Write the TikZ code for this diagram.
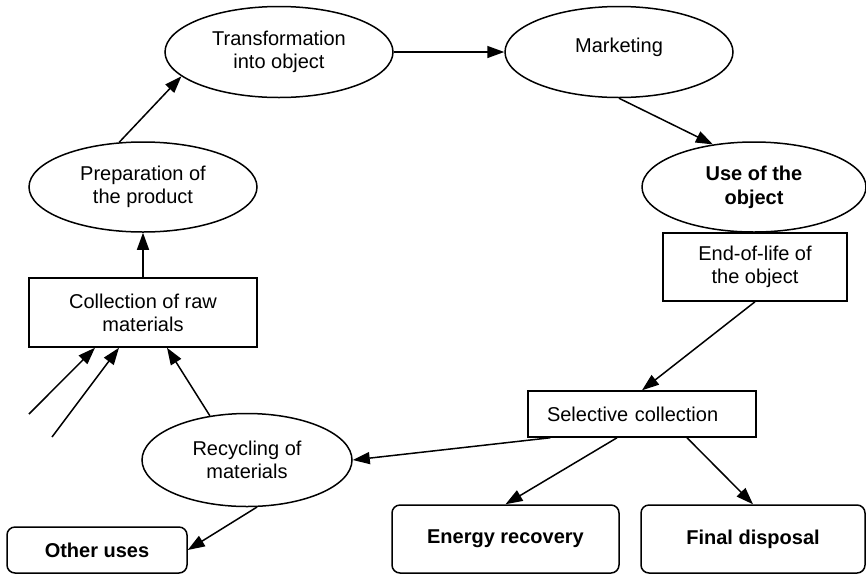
\documentclass[tikz,border=0pt]{standalone}
\usepackage{fontspec}
\setmainfont{Liberation Sans}
\usetikzlibrary{arrows.meta}
\usetikzlibrary{shapes.geometric}
\tikzset{oval/.style={draw=black, ellipse, inner sep=0pt, align=center, line width=0.75pt}}
\tikzset{block/.style={draw=black, rectangle, inner sep=0pt, align=center, line width=0.75pt}}
\tikzset{endbox/.style={block, rounded corners=4pt, font=\bfseries}}
\tikzset{arrow/.style={-{Triangle[length=8.5pt,width=6pt]}, line width=0.75pt}}

\begin{document}
\begin{tikzpicture}[x=0.5pt, y=-0.5pt, font=\fontsize{10}{11.5}\selectfont]
        \useasboundingbox (0,0) rectangle (866,574);

        \node[oval, minimum width=114pt, minimum height=45.5pt] (trans) at (279,52) {Transformation\\into object};
        \node[oval, minimum width=114pt, minimum height=45.5pt, text depth=7pt] (mkt) at (619,52) {Marketing};
        \node[oval, minimum width=114pt, minimum height=45pt] (prep) at (143,187) {Preparation of\\the product};
        \node[oval, minimum width=112pt, minimum height=45pt, font=\bfseries] (use) at (754,187) {Use of the\\object};
        \node[block, minimum width=92pt, minimum height=34pt] (eol) at (755,267) {End-of-life of\\the object};
        \node[block, minimum width=114pt, minimum height=34.5pt] (coll) at (143,312.5) {Collection of raw\\materials};
        \node[block, text width=95pt, align=left, inner xsep=9.5pt, minimum height=23pt] (sel) at (642,414) {Selective collection};
        \node[oval, minimum width=105pt, minimum height=46.5pt] (recyc) at (247,460) {Recycling of\\materials};
        \node[endbox, minimum width=90pt, minimum height=23pt] (other) at (97,550) {Other uses};
        \node[endbox, minimum width=113.5pt, minimum height=34pt] (energy) at (505.5,539) {Energy recovery};
        \node[endbox, minimum width=112pt, minimum height=34pt] (final) at (753,539) {Final disposal};

        \coordinate (in1) at (29,414);
        \coordinate (in2) at (52,437);

        \draw[arrow] (coll.north) -- (prep.south);
        \draw[arrow] (prep.118) -- (trans.194);
        \draw[arrow] (trans.east) -- (mkt.west);
        \draw[arrow] (mkt.south) -- (use.134);
        \draw[arrow] (eol.south) -- (sel.north);
        \draw[arrow] ([xshift=11.5pt]sel.south west) -- (recyc.east);
        \draw[arrow] ([xshift=-12.5pt]sel.south) -- (energy.north);
        \draw[arrow] ([xshift=22.5pt]sel.south) -- (final.north);
        \draw[arrow] (recyc.282) -- (other.east);
        \draw[arrow] (recyc.130) -- ([xshift=12pt]coll.south);
        \draw[arrow] (in1) -- ([xshift=-24pt]coll.south);
        \draw[arrow] (in2) -- ([xshift=-12pt]coll.south);
\end{tikzpicture}
\end{document}
